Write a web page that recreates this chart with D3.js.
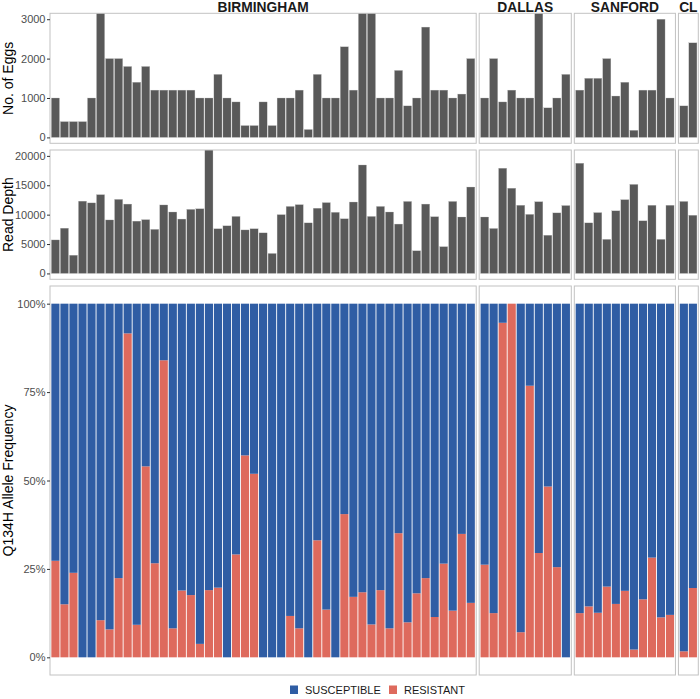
<!DOCTYPE html>
<html>
<head>
<meta charset="utf-8">
<script src="https://cdn.jsdelivr.net/npm/d3@7"></script>
<style>
  html, body { margin: 0; padding: 0; background: #fff; }
  svg { display: block; font-family: "Liberation Sans", Arial, Helvetica, sans-serif; }
</style>
</head>
<body>
<svg id="chart" width="700" height="699"></svg>
<script>
// ---------------- DATA ----------------
const sites = ["BIRMINGHAM", "DALLAS", "SANFORD", "CL"];

const birminghamEggs = [1000, 400, 400, 400, 1000, 3400, 2000, 2000, 1800, 1400, 1800, 1200, 1200, 1200, 1200, 1200,
  1000, 1000, 1600, 1000, 900, 300, 300, 900, 300, 1000, 1000, 1200, 200, 1600, 1000, 1000, 2300, 1200, 3400, 3400,
  1000, 1000, 1700, 800, 1000, 2800, 1200, 1200, 1000, 1100, 2000];
const dallasEggs = [1000, 2000, 900, 1200, 1000, 1000, 3400, 750, 1000, 1600];
const sanfordEggs = [1200, 1500, 1500, 2000, 1050, 1400, 180, 1200, 1200, 3000, 1000];
const clEggs = [800, 2400];

const birminghamDepth = [5700, 7700, 3100, 12300, 12000, 13400, 9100, 12600, 11800, 8900, 9150, 7500, 11650, 10450,
  9250, 10900, 11000, 21500, 7600, 8100, 9700, 7400, 7600, 6900, 3400, 10000, 11400, 11700, 8600, 11100, 12050, 10400,
  9300, 12150, 18450, 9700, 11400, 10450, 8400, 12250, 3850, 11800, 9650, 4550, 12250, 9600, 14700];
const dallasDepth = [9600, 7650, 17900, 14500, 11600, 10050, 12200, 6500, 10300, 11550];
const sanfordDepth = [18750, 8600, 10350, 5800, 10650, 12550, 15150, 8950, 11600, 5800, 11600];
const clDepth = [12250, 9900];

// resistant allele frequency (susceptible = 1 - resistant)
const birminghamResistant = [0.273, 0.150, 0.239, 0, 0, 0.105, 0.079, 0.224, 0.916, 0.092, 0.540, 0.266, 0.840, 0.082,
  0.189, 0.176, 0.038, 0.190, 0.197, 0, 0.291, 0.571, 0.519, 0, 0, 0, 0.117, 0.082, 0, 0.331, 0.135, 0, 0.405, 0.171,
  0.184, 0.093, 0.190, 0.082, 0.351, 0.099, 0.181, 0.224, 0.114, 0.265, 0.132, 0.349, 0.154];
const dallasResistant = [0.262, 0.125, 0.946, 1.0, 0.071, 0.768, 0.295, 0.483, 0.255, 0];
const sanfordResistant = [0.125, 0.144, 0.126, 0.200, 0.151, 0.188, 0.022, 0.164, 0.282, 0.113, 0.120];
const clResistant = [0.017, 0.196];

const eggTicks = [0, 1000, 2000, 3000];
const depthTicks = [0, 5000, 10000, 15000, 20000];
const freqTicks = [0, 0.25, 0.5, 0.75, 1];
const legendLabels = ["SUSCEPTIBLE", "RESISTANT"];

const eggsBySite = [birminghamEggs, dallasEggs, sanfordEggs, clEggs];
const depthBySite = [birminghamDepth, dallasDepth, sanfordDepth, clDepth];
const resBySite = [birminghamResistant, dallasResistant, sanfordResistant, clResistant];

// ---------------- LAYOUT ----------------
const svg = d3.select("#chart");
const COL_BLUE = "#2F5DA4", COL_RED = "#DE6A5D", COL_GRAY = "#595959", COL_BORDER = "#c2c2c2";
const left = 50, right = 698.3, gap = 3;
const units = eggsBySite.map(a => a.length + 0.2);
const totalUnits = d3.sum(units);
const unitW = (right - left - gap * (sites.length - 1)) / totalUnits;
const panelsX = [];
let cx = left;
units.forEach(u => { panelsX.push([cx, cx + u * unitW]); cx += u * unitW + gap; });

const rows = [
  { top: 13.3, bottom: 143.3, domain: [0, 3000], ticks: eggTicks, fmt: d3.format("d"), title: "No. of Eggs" },
  { top: 150, bottom: 279.3, domain: [0, 20000], ticks: depthTicks, fmt: d3.format("d"), title: "Read Depth" },
  { top: 286, bottom: 675, domain: [0, 1], ticks: freqTicks, fmt: d3.format(".0%"), title: "Q134H Allele Frequency" }
];
rows.forEach(r => {
  const span = r.domain[1] - r.domain[0];
  r.y = d3.scaleLinear().domain([r.domain[0] - 0.05 * span, r.domain[1] + 0.05 * span]).range([r.bottom, r.top]);
});

const defs = svg.append("defs");

sites.forEach((site, si) => {
  const [x0, x1] = panelsX[si];
  const n = eggsBySite[si].length;
  const ids = d3.range(n).map(i => site + "_" + (i + 1));
  const x = d3.scaleBand().domain(ids).range([x0, x1]).paddingInner(0.1).paddingOuter(0.15).align(0.5);

  // strip label
  const clipS = "strip" + si;
  defs.append("clipPath").attr("id", clipS).append("rect")
    .attr("x", x0).attr("y", 0).attr("width", x1 - x0).attr("height", 13.3);
  svg.append("text").attr("clip-path", `url(#${clipS})`)
    .attr("x", (x0 + x1) / 2).attr("y", 12.3).attr("text-anchor", "middle")
    .attr("font-size", "13.8px").attr("font-weight", "bold").attr("fill", "#1a1a1a").text(site);

  rows.forEach((r, ri) => {
    const clipId = `clip${si}_${ri}`;
    defs.append("clipPath").attr("id", clipId).append("rect")
      .attr("x", x0).attr("y", r.top).attr("width", x1 - x0).attr("height", r.bottom - r.top);
    const g = svg.append("g").attr("clip-path", `url(#${clipId})`);
    if (ri < 2) {
      const vals = ri === 0 ? eggsBySite[si] : depthBySite[si];
      g.selectAll("rect").data(vals).join("rect")
        .attr("x", (d, i) => x(ids[i])).attr("width", x.bandwidth())
        .attr("y", d => r.y(d)).attr("height", d => r.y(0) - r.y(d))
        .attr("fill", COL_GRAY).attr("stroke", "#bdbdbd").attr("stroke-width", 0.3);
    } else {
      const vals = resBySite[si];
      const stack = d3.stack().keys(["resistant", "susceptible"])(vals.map(v => ({ resistant: v, susceptible: 1 - v })));
      const colors = [COL_RED, COL_BLUE];
      stack.forEach((layer, li) => {
        g.append("g").selectAll("rect").data(layer).join("rect")
          .attr("x", (d, i) => x(ids[i])).attr("width", x.bandwidth())
          .attr("y", d => r.y(d[1])).attr("height", d => Math.max(0, r.y(d[0]) - r.y(d[1])))
          .attr("fill", colors[li]);
      });
    }
    svg.append("rect").attr("x", x0).attr("y", r.top).attr("width", x1 - x0).attr("height", r.bottom - r.top)
      .attr("fill", "none").attr("stroke", COL_BORDER).attr("stroke-width", 1);
  });
});

// y axes
rows.forEach(r => {
  const ax = svg.append("g").attr("transform", `translate(${left},0)`)
    .call(d3.axisLeft(r.y).tickValues(r.ticks).tickFormat(r.fmt).tickSize(3).tickPadding(1.5));
  ax.select(".domain").remove();
  ax.selectAll(".tick line").attr("stroke", "#333").attr("stroke-width", 1);
  ax.selectAll(".tick text").attr("fill", "#4d4d4d").attr("font-size", "11px")
    .attr("font-family", "Liberation Sans, Arial, sans-serif");
  svg.append("text").attr("transform", `translate(13,${(r.top + r.bottom) / 2}) rotate(-90)`)
    .attr("text-anchor", "middle").attr("font-size", "14px").attr("fill", "#000").text(r.title);
});

// legend
const legend = svg.append("g");
const legendColors = [COL_BLUE, COL_RED];
const legendX = [290, 389];
legendLabels.forEach((lab, i) => {
  legend.append("rect").attr("x", legendX[i]).attr("y", 685.5).attr("width", 8).attr("height", 8.5).attr("fill", legendColors[i]);
  legend.append("text").attr("x", legendX[i] + 15).attr("y", 694).attr("font-size", "11px").attr("fill", "#1a1a1a").text(lab);
});
</script>
</body>
</html>
